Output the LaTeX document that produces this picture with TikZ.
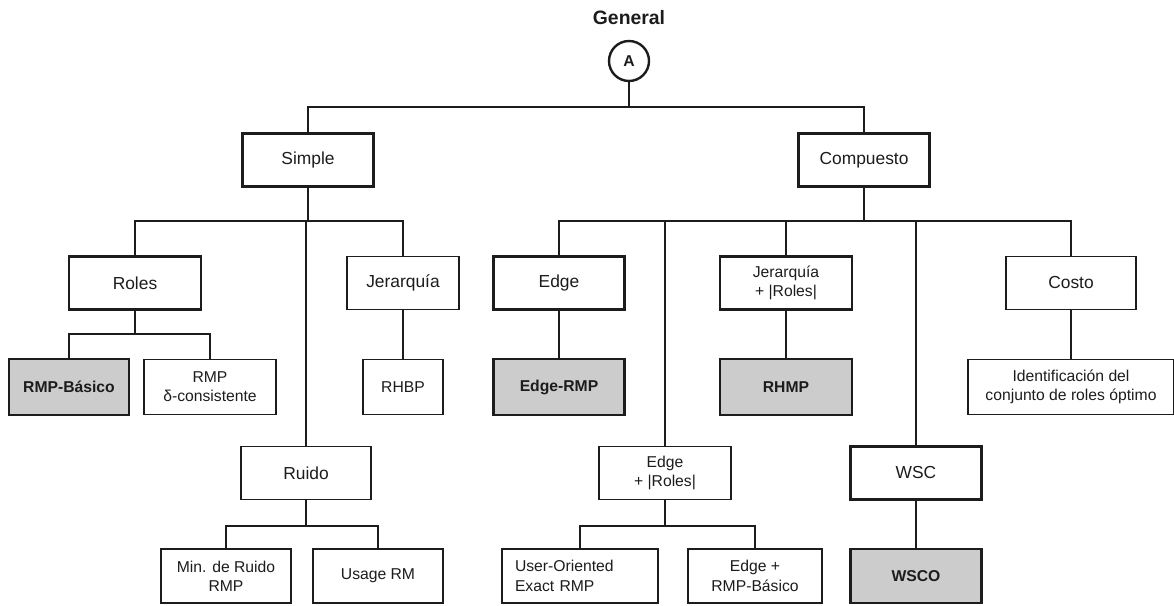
\documentclass[tikz,border=0pt]{standalone}
\usepackage{fontspec}
\setmainfont{Liberation Sans}
\usepackage{xcolor}
\usepackage{tikz}
\definecolor{ink}{RGB}{28,28,28}
\definecolor{boxgray}{RGB}{204,204,204}
\newcommand{\bigsz}{\fontsize{17.4}{20}\selectfont}
\newcommand{\smallsz}{\fontsize{15.7}{19.3}\selectfont}

\begin{document}
\begin{tikzpicture}[x=1pt, y=-1pt, every node/.style={font=\bigsz, text=ink},
		box/.style={draw=ink, rectangle, inner sep=0pt, align=center, minimum width=131pt, minimum height=53pt},
		heavy/.style={box, line width=2.8pt},
		light/.style={box, line width=1.3pt},
		goal/.style={heavy, fill=boxgray, minimum height=56pt, font=\smallsz\bfseries},
		leaf/.style={light, minimum height=55pt, font=\smallsz},
		thk/.style={draw=ink, line width=2.8pt},
		thn/.style={draw=ink, line width=1.3pt}]
	\useasboundingbox (0,0) rectangle (1174,605);

	\node[font=\fontsize{19.4}{22}\selectfont\bfseries] (gen) at (629,18) {General};
	\node[draw=ink, circle, line width=2.4pt, minimum size=40pt, inner sep=0pt, font=\smallsz\bfseries] (A) at (629,61) {A};

	\node[heavy] (simple) at (308,160) {Simple};
	\node[heavy] (comp) at (864,160) {Compuesto};

	\node[heavy, minimum width=132pt] (roles) at (135,283) {Roles};
	\node[light, minimum width=112pt] (jer) at (403,283) {Jerarquía};
	\node[light, minimum width=130pt] (ruido) at (306,473) {Ruido};
	\node[goal, minimum width=120pt] (basico) at (69,387) {RMP-Básico};
	\node[leaf, minimum width=132pt] (delta) at (210,387) {RMP\\δ-consistente};
	\node[leaf, minimum width=80pt] (rhbp) at (403,387) {RHBP};
	\node[leaf, minimum width=130pt, minimum height=54pt] (minruido) at (226,576) {Min. de Ruido\\RMP};
	\node[leaf, minimum width=130pt, minimum height=54pt] (usage) at (378,576) {Usage RM};

	\node[heavy] (edge) at (559,283) {Edge};
	\node[goal] (edgermp) at (559,387) {Edge-RMP};
	\node[light, font=\smallsz, minimum width=132pt] (edgeroles) at (665,473) {Edge\\+ |Roles|};
	\node[leaf, minimum width=156pt, minimum height=54pt, text width=130pt, align=left] (user) at (580,576) {User-Oriented\\Exact RMP};
	\node[leaf, minimum width=134pt, minimum height=54pt] (edgebas) at (755,576) {Edge +\\RMP-Básico};
	\node[heavy, font=\smallsz, minimum width=132pt] (jerroles) at (786,283) {Jerarquía\\+ |Roles|};
	\node[goal, minimum width=132pt] (rhmp) at (786,387) {RHMP};
	\node[heavy] (wsc) at (916,473) {WSC};
	\node[goal, minimum height=54pt] (wsco) at (916,576) {WSCO};
	\node[light, minimum width=130pt] (costo) at (1071,283) {Costo};
	\node[leaf, minimum width=206pt] (ident) at (1071,387) {Identificación del\\conjunto de roles óptimo};

	\coordinate (j0) at (629,107);
	\coordinate (js) at (308,221);
	\coordinate (jc) at (864,221);
	\coordinate (jr) at (135,334);
	\coordinate (jn) at (306,526);
	\coordinate (je) at (665,526);

	\draw[thk] (A) -- (j0);
	\draw[thk] (simple.north) |- (j0) -| (comp.north);

	\draw[thk] (simple) -- (js);
	\draw[thk] (roles.north) |- (js) -| (jer.north);
	\draw[thn] (ruido.north) -- (ruido.north |- js);
	\draw[thk] (roles) -- (jr);
	\draw[thk] (basico.north) |- (jr);
	\draw[thn] (jr) -| (delta.north);
	\draw[thn] (jer) -- (rhbp);
	\draw[thn] (ruido) -- (jn);
	\draw[thn] (minruido.north) |- (jn) -| (usage.north);

	\draw[thk] (comp) -- (jc);
	\draw[thn] (jc) -| (costo.north);
	\draw[thk] (edge.north) |- (jc) -| (wsc.north);
	\draw[thn] (edgeroles.north) -- (edgeroles.north |- jc);
	\draw[thn] (jerroles.north) -- (jerroles.north |- jc);
	\draw[thk] (edge) -- (edgermp);
	\draw[thk] (jerroles) -- (rhmp);
	\draw[thk] (wsc) -- (wsco);
	\draw[thn] (costo) -- (ident);
	\draw[thn] (edgeroles) -- (je);
	\draw[thn] (user.north) |- (je) -| (edgebas.north);
\end{tikzpicture}
\end{document}
